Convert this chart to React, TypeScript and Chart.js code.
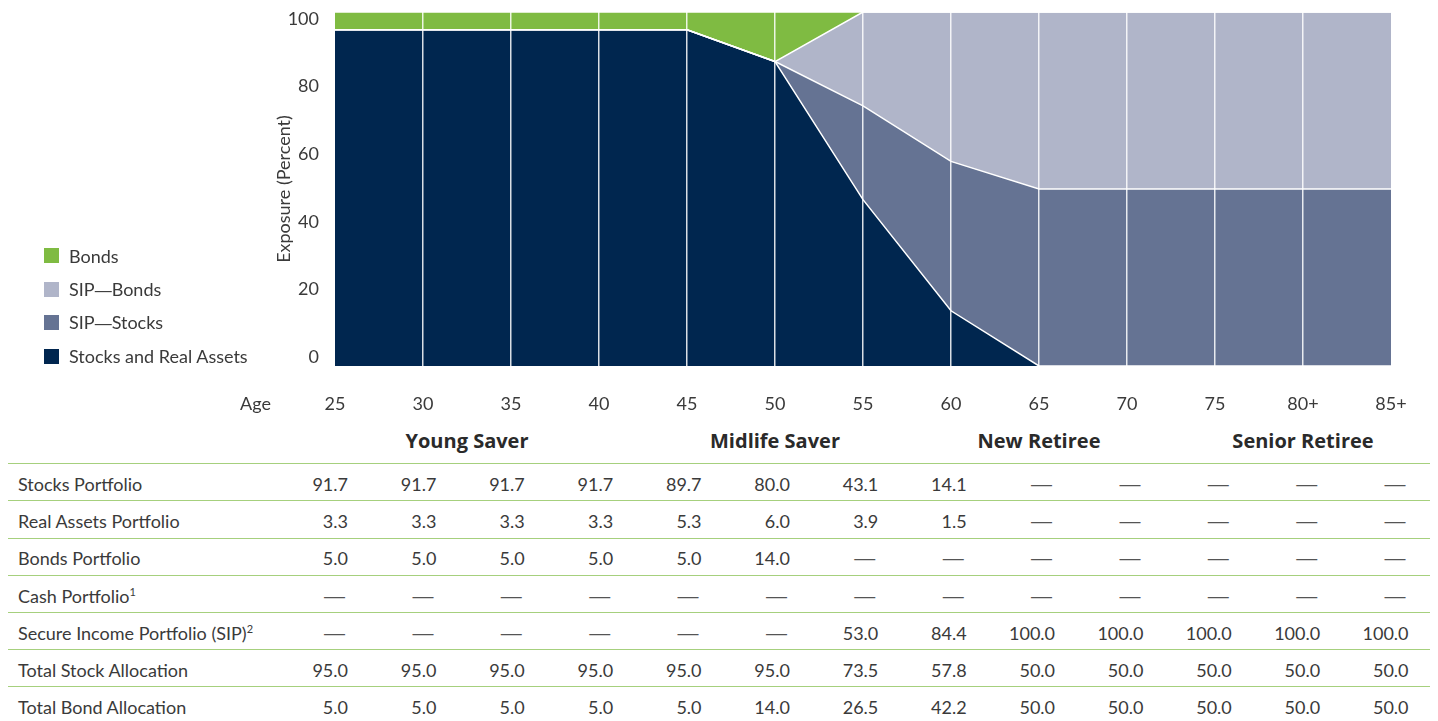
import React, { useEffect, useRef, useState } from 'react';
import { Chart, registerables } from 'chart.js';

Chart.register(...registerables);

// ---------- data ----------
const ages = ['25', '30', '35', '40', '45', '50', '55', '60', '65', '70', '75', '80+', '85+'];
const yTickValues = [0, 20, 40, 60, 80, 100];

const seriesLabels = ['Stocks and Real Assets', 'SIP—Stocks', 'SIP—Bonds', 'Bonds'];
const seriesColors = ['#00264f', '#657393', '#b0b5c9', '#7fbb42'];
const stocksRealAssets = [95, 95, 95, 95, 95, 86, 47.0, 15.6, 0, 0, 0, 0, 0];
const sipStocks = [0, 0, 0, 0, 0, 0, 26.5, 42.2, 50, 50, 50, 50, 50];
const sipBonds = [0, 0, 0, 0, 0, 0, 26.5, 42.2, 50, 50, 50, 50, 50];
const bonds = [5, 5, 5, 5, 5, 14, 0, 0, 0, 0, 0, 0, 0];
const seriesData = [stocksRealAssets, sipStocks, sipBonds, bonds];

const stageNames = ['Young Saver', 'Midlife Saver', 'New Retiree', 'Senior Retiree'];
const stageFirst = [0, 4, 7, 10];
const stageLast = [3, 6, 9, 12];

const N = null;
const stocksPortfolio = [91.7, 91.7, 91.7, 91.7, 89.7, 80.0, 43.1, 14.1, N, N, N, N, N];
const realAssetsPortfolio = [3.3, 3.3, 3.3, 3.3, 5.3, 6.0, 3.9, 1.5, N, N, N, N, N];
const bondsPortfolio = [5.0, 5.0, 5.0, 5.0, 5.0, 14.0, N, N, N, N, N, N, N];
const cashPortfolio = [N, N, N, N, N, N, N, N, N, N, N, N, N];
const secureIncomePortfolio = [N, N, N, N, N, N, 53.0, 84.4, 100.0, 100.0, 100.0, 100.0, 100.0];
const totalStockAllocation = [95.0, 95.0, 95.0, 95.0, 95.0, 95.0, 73.5, 57.8, 50.0, 50.0, 50.0, 50.0, 50.0];
const totalBondAllocation = [5.0, 5.0, 5.0, 5.0, 5.0, 14.0, 26.5, 42.2, 50.0, 50.0, 50.0, 50.0, 50.0];

const rowLabels = [
  'Stocks Portfolio',
  'Real Assets Portfolio',
  'Bonds Portfolio',
  'Cash Portfolio',
  'Secure Income Portfolio (SIP)',
  'Total Stock Allocation',
  'Total Bond Allocation',
];
const rowNotes = ['', '', '', '1', '2', '', ''];
const rowValues = [
  stocksPortfolio,
  realAssetsPortfolio,
  bondsPortfolio,
  cashPortfolio,
  secureIncomePortfolio,
  totalStockAllocation,
  totalBondAllocation,
];

// ---------- styles ----------
const FONT = 'Lato, "Open Sans", sans-serif';
const DASH_FONT = '"Liberation Sans", Arial, sans-serif';
const TEXT = '#3a3a3a';
const RULE = '#a6d07d';

function LegendLabel({ text }: { text: string }) {
  const parts = text.split('—');
  return (
    <>
      {parts.map((p, i) => (
        <React.Fragment key={i}>
          {i > 0 && <span style={{ fontFamily: DASH_FONT, fontSize: 17 }}>—</span>}
          {p}
        </React.Fragment>
      ))}
    </>
  );
}

export default function App() {
  const canvasRef = useRef<HTMLCanvasElement | null>(null);
  const [xs, setXs] = useState<number[]>([]);

  useEffect(() => {
    const canvas = canvasRef.current;
    if (!canvas) return;
    Chart.defaults.font.family = FONT;
    const chart = new Chart(canvas, {
      type: 'line',
      data: {
        labels: ages,
        datasets: seriesLabels.map((label, i) => ({
          label,
          data: seriesData[i],
          backgroundColor: seriesColors[i],
          borderColor: '#ffffff',
          borderWidth: 1.5,
          pointRadius: 0,
          pointHoverRadius: 0,
          tension: 0,
          fill: i === 0 ? 'origin' : '-1',
          yAxisID: 'y',
        })),
      },
      options: {
        animation: false,
        responsive: false,
        devicePixelRatio: 1,
        events: [],
        layout: { padding: { left: 260, right: 47, top: 12, bottom: 4 } },
        plugins: {
          legend: { display: false },
          tooltip: { enabled: false },
          filler: { drawTime: 'beforeDatasetsDraw' },
        } as any,
        scales: {
          x: {
            type: 'category',
            offset: false,
            grid: {
              z: 1,
              drawTicks: false,
              lineWidth: 1.5,
              color: (ctx: any) =>
                ctx.index === 0 || ctx.index === ages.length - 1 ? 'rgba(0,0,0,0)' : 'rgba(255,255,255,0.85)',
            },
            border: { display: false },
            ticks: { padding: 27, color: TEXT, font: { size: 18 }, maxRotation: 0, autoSkip: false },
            afterFit: (s: any) => {
              s.height = 50;
              s.paddingLeft = 0;
              s.paddingRight = 0;
            },
          },
          y: { type: 'linear', stacked: true, min: 0, max: 100, display: false },
          yTicks: {
            type: 'linear',
            position: 'left',
            min: -2.66,
            max: 102.07,
            grid: { display: false },
            border: { display: false },
            ticks: { padding: 8, color: TEXT, font: { size: 18 } },
            afterBuildTicks: (s: any) => {
              s.ticks = yTickValues.map((v) => ({ value: v }));
            },
            title: {
              display: true,
              text: 'Exposure (Percent)',
              color: TEXT,
              font: { size: 18 },
              padding: { top: 13, bottom: 0 },
            },
            afterFit: (s: any) => {
              s.width = 75;
              s.paddingTop = 0;
              s.paddingBottom = 0;
            },
          },
        } as any,
      },
    });
    setXs(ages.map((_, i) => chart.scales.x.getPixelForValue(i)));
    return () => chart.destroy();
  }, []);

  const rowH = 37.2;
  const firstRule = 464;

  return (
    <div
      style={{
        position: 'absolute',
        left: 0,
        top: 0,
        width: 1438,
        height: 721,
        overflow: 'hidden',
        background: '#ffffff',
        fontFamily: FONT,
        color: TEXT,
      }}
    >
      <canvas
        ref={canvasRef}
        width={1438}
        height={420}
        style={{ position: 'absolute', left: 0, top: 0, width: 1438, height: 420 }}
      />

      {/* legend */}
      {[3, 2, 1, 0].map((si, k) => (
        <div key={si} style={{ position: 'absolute', left: 44, top: 255.5 + k * 33.5 - 15, height: 30, display: 'flex', alignItems: 'center' }}>
          <div style={{ width: 15, height: 15, background: seriesColors[si] }} />
          <div style={{ marginLeft: 10, fontSize: 18, whiteSpace: 'nowrap' }}>
            <LegendLabel text={seriesLabels[si]} />
          </div>
        </div>
      ))}

      {/* Age label */}
      <div style={{ position: 'absolute', right: 1438 - 271, top: 403 - 15, height: 30, lineHeight: '30px', fontSize: 18 }}>Age</div>

      {/* stage headers */}
      {xs.length > 0 &&
        stageNames.map((name, g) => {
          const cx = (xs[stageFirst[g]] + xs[stageLast[g]]) / 2;
          return (
            <div
              key={name}
              style={{
                position: 'absolute',
                left: cx - 150,
                width: 300,
                top: 441 - 15,
                height: 30,
                lineHeight: '30px',
                textAlign: 'center',
                fontFamily: '"Open Sans", sans-serif',
                fontWeight: 700,
                fontSize: 20,
                color: '#2a2a2a',
              }}
            >
              {name}
            </div>
          );
        })}

      {/* table */}
      {rowLabels.map((label, r) => {
        const top = firstRule + r * rowH;
        const cy = top + 20;
        return (
          <React.Fragment key={label}>
            <div style={{ position: 'absolute', left: 8, width: 1422, top: top - 0.75, height: 0, borderTop: `1.5px solid ${RULE}` }} />
            <div style={{ position: 'absolute', left: 18, top: cy - 15, height: 30, lineHeight: '30px', fontSize: 18, whiteSpace: 'nowrap' }}>
              {label}
              {rowNotes[r] && <sup style={{ fontSize: 11, lineHeight: 0, verticalAlign: 'super' }}>{rowNotes[r]}</sup>}
            </div>
            {xs.map((x, i) => {
              const v = rowValues[r][i];
              const right = x + 13 + i * 0.38;
              return (
                <div
                  key={i}
                  style={{
                    position: 'absolute',
                    left: right - 80,
                    width: 80,
                    top: cy - 15,
                    height: 30,
                    lineHeight: '30px',
                    textAlign: 'right',
                    fontSize: 18,
                  }}
                >
                  {v === null ? (
                    <span style={{ fontFamily: DASH_FONT, fontSize: 21, color: '#555', paddingRight: 3 }}>—</span>
                  ) : (
                    v.toFixed(1)
                  )}
                </div>
              );
            })}
          </React.Fragment>
        );
      })}
    </div>
  );
}
